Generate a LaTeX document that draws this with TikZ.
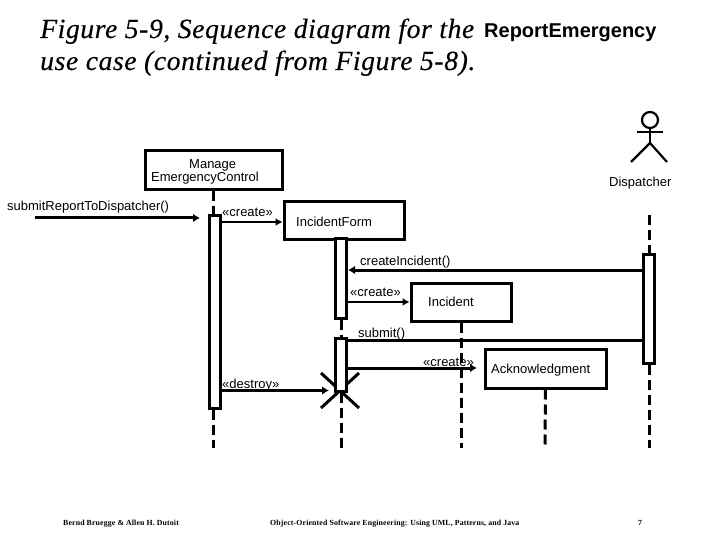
\documentclass[tikz,border=0pt]{standalone}
\usepackage{fontspec}
\setmainfont{Liberation Sans}
\newfontfamily\titlefont[LetterSpace=2,FakeBold=0.25]{Liberation Serif}
\newfontfamily\footfont[LetterSpace=2]{Liberation Serif}
\usetikzlibrary{arrows.meta,shapes.misc}
\tikzset{
    objbox/.style={draw,line width=3pt,fill=white,inner sep=0pt},
    actbox/.style={draw,line width=3pt,fill=white,inner sep=0pt,minimum width=11pt},
    lifeline/.style={line width=3pt,dash pattern=on 10pt off 5pt},
    msgthick/.style={line width=3pt,-{Latex[length=7pt,width=8.5pt]}},
    msgthin/.style={line width=2.2pt,-{Latex[length=7pt,width=8pt]}},
    msgtext/.style={anchor=base west,inner sep=0pt,font=\fontsize{13}{13}\selectfont},
    headtext/.style={anchor=base west,inner sep=0pt,font=\titlefont\itshape\fontsize{27.7}{27.7}\selectfont},
    foottext/.style={anchor=base west,inner sep=0pt,font=\footfont\bfseries\fontsize{7.8}{7.8}\selectfont},
}
\begin{document}
\begin{tikzpicture}[x=1pt,y=-1pt]
    \useasboundingbox (0,0) rectangle (720,540);

    % title
    \node[headtext] (titleA) at (40,38) {Figure 5-9, Sequence diagram for the};
    \node[anchor=base west,inner sep=0pt,font=\bfseries\fontsize{20}{20}\selectfont] (titleB) at (484,38) {ReportEmergency};
    \node[headtext] (titleC) at (40,70) {use case (continued from Figure 5-8).};

    % free ends of the lifelines
    \coordinate (mgrEnd) at (213,448);
    \coordinate (formEnd) at (341,448);
    \coordinate (incEnd) at (461,448);
    \coordinate (ackEnd) at (545,448);
    \coordinate (dispTop) at (649,215);
    \coordinate (dispEnd) at (649,448);
    \coordinate (callStart) at (35,218);

    % objects
    \node[objbox,minimum width=137pt,minimum height=39pt] (mgrBox) at (213.5,170.5) {};
    \node[objbox,minimum width=120pt,minimum height=37pt] (formBox) at (344,220.5) {};
    \node[objbox,minimum width=100pt,minimum height=38pt] (incBox) at (461,302) {};
    \node[objbox,minimum width=121pt,minimum height=39pt] (ackBox) at (545.5,368.5) {};
    \node[msgtext] (mgrTextA) at (189,169) {Manage};
    \node[msgtext] (mgrTextB) at (151,182) {EmergencyControl};
    \node[msgtext] (formText) at (296,226) {IncidentForm};
    \node[msgtext] (incText) at (428,306) {Incident};
    \node[msgtext] (ackText) at (491,373) {Acknowledgment};
    \node[msgtext] (dispText) at (609,187) {Dispatcher};

    % actor
    \node[draw,circle,line width=2.2pt,minimum size=16pt,inner sep=0pt] (dispHead) at (650,120) {};
    \coordinate (dispHip) at (650,143);
    \coordinate (dispArmL) at (637,132);
    \coordinate (dispArmR) at (663,132);
    \coordinate (dispFootL) at (631,162);
    \coordinate (dispFootR) at (667,162);
    \draw[line width=2.2pt] (dispHead.south) -- (dispHip);
    \draw[line width=2.2pt] (dispArmL) -- (dispArmR);
    \draw[line width=2.2pt] (dispFootL) -- (dispHip) -- (dispFootR);

    % activations
    \node[cross out,draw,line width=3pt,minimum width=35pt,minimum height=32pt,inner sep=0pt] (formX) at (340,390.5) {};
    \node[actbox,minimum height=192pt] (mgrAct) at (215,312) {};
    \node[actbox,minimum height=80pt] (formActA) at (341,278) {};
    \node[actbox,minimum height=53pt] (formActB) at (341,364.5) {};
    \node[actbox,minimum height=109pt] (dispAct) at (649,308.5) {};

    % lifelines
    \draw[lifeline] (mgrBox.south) -- (mgrAct.north -| mgrBox.south);
    \draw[lifeline] (mgrAct.south -| mgrEnd) -- (mgrEnd);
    \draw[lifeline] (formActA.south) -- (formActB.north);
    \draw[lifeline] (formActB.south) -- (formEnd);
    \draw[lifeline] (incBox.south) -- (incEnd);
    \draw[lifeline] (ackBox.south) -- (ackEnd);
    \draw[lifeline] (dispTop) -- (dispAct.north);
    \draw[lifeline] (dispAct.south) -- (dispEnd);

    % messages
    \draw[msgthick,shorten >=8pt] (callStart) -- (mgrAct.west |- callStart);
    \draw[msgthin] (mgrAct.east |- 0,222) -- (formBox.west |- 0,222);
    \draw[msgthick] (dispAct.west |- 0,270) -- (formActA.east |- 0,270);
    \draw[msgthin] (formActA.east |- incBox.west) -- (incBox.west);
    \draw[line width=3pt] (formActB.east |- 0,340) -- (dispAct.west |- 0,340);
    \draw[msgthick] (formActB.east |- 0,368) -- (477,368);
    \draw[msgthick,shorten >=11pt] (mgrAct.east |- formX.center) -- (formX.center);

    % message labels
    \node[msgtext] (callText) at (7,211) {submitReportToDispatcher()};
    \node[msgtext] (createA) at (222,217) {«create»};
    \node[msgtext] (callB) at (360,265) {createIncident()};
    \node[msgtext] (createB) at (350,296) {«create»};
    \node[msgtext] (callC) at (358,337) {submit()};
    \node[msgtext] (createC) at (423,366) {«create»};
    \node[msgtext] (destroyText) at (222,388) {«destroy»};

    % footer
    \node[foottext] (footA) at (63,525) {Bernd Bruegge \& Allen H. Dutoit};
    \node[foottext] (footB) at (270,525) {Object-Oriented Software Engineering: Using UML, Patterns, and Java};
    \node[foottext] (footC) at (638,525) {7};
\end{tikzpicture}
\end{document}
